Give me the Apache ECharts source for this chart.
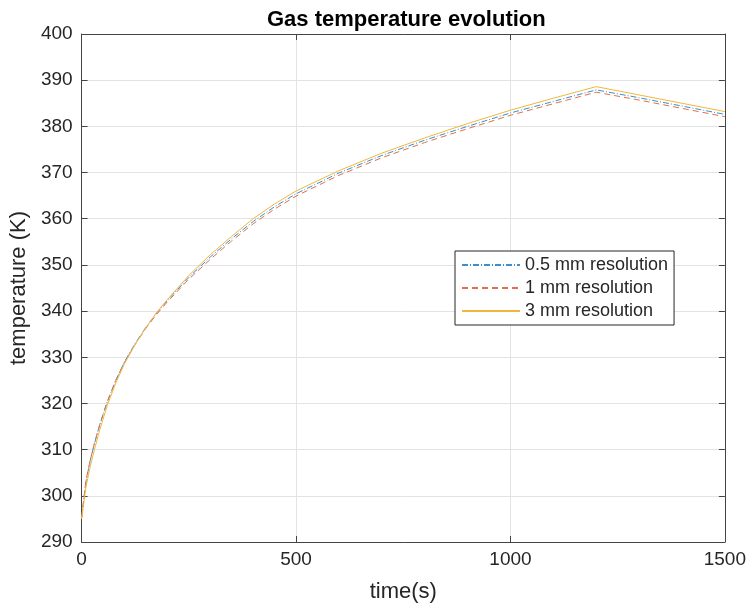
<!DOCTYPE html>
<html>
<head>
<meta charset="utf-8">
<script src="https://cdn.jsdelivr.net/npm/echarts@6/dist/echarts.min.js"></script>
<style>html,body{margin:0;padding:0;background:#fff;}#c{width:749px;height:608px;}</style>
</head>
<body>
<div id="c"></div>
<script>
const times = [0,10,20,30,40,50,60,80,100,125,150,175,200,250,300,350,400,450,500,600,700,800,900,1000,1100,1200,1300,1400,1500];
const res05 = [295.2,303.0,307.6,311.3,314.6,317.6,320.4,325.1,329.0,333.0,336.5,339.6,342.3,347.3,351.7,355.7,359.4,362.6,365.4,369.9,373.7,377.0,380.0,382.9,385.4,387.9,386.2,384.4,382.6];
const res1 = [295.3,303.2,307.7,311.4,314.7,317.6,320.4,325.0,328.9,332.8,336.3,339.3,342.0,346.9,351.2,355.2,358.9,362.1,364.9,369.4,373.2,376.5,379.5,382.4,384.9,387.4,385.7,383.9,382.1];
const res3 = [295.0,301.8,306.3,310.0,313.5,316.6,319.6,324.5,328.6,332.8,336.4,339.7,342.5,347.7,352.2,356.2,360.0,363.2,366.0,370.4,374.2,377.5,380.6,383.5,386.1,388.6,386.8,385.0,383.2];
const seriesNames = ['0.5 mm resolution','1 mm resolution','3 mm resolution'];
const xTicks = [0,500,1000,1500];
const yTicks = [290,300,310,320,330,340,350,360,370,380,390,400];

const pair = arr => times.map((t,i)=>[t,arr[i]]);
const font = 'Liberation Sans, Arial, Helvetica, sans-serif';
const axisCol = '#444444';
const txtCol = '#262626';

const chart = echarts.init(document.getElementById('c'), null, {renderer:'canvas'});
const baseX = {
  type:'value', min:xTicks[0], max:xTicks[xTicks.length-1], interval:500,
  axisLine:{show:true,onZero:false,lineStyle:{color:axisCol,width:1}},
  axisTick:{show:true,inside:true,length:6,lineStyle:{color:axisCol}},
  splitLine:{show:false}
};
const baseY = {
  type:'value', min:yTicks[0], max:yTicks[yTicks.length-1], interval:10,
  axisLine:{show:true,onZero:false,lineStyle:{color:axisCol,width:1}},
  axisTick:{show:true,inside:true,length:6,lineStyle:{color:axisCol}},
  splitLine:{show:false}
};
chart.setOption({
  animation:false,
  backgroundColor:'#ffffff',
  title:{text:'Gas temperature evolution', left:262, top:4,
    textStyle:{fontFamily:font,fontSize:22,fontWeight:'bold',color:'#000'}},
  grid:{left:80,right:22,top:34,bottom:65,containLabel:false},
  legend:{
    orient:'vertical', left:455, top:251,
    data:seriesNames,
    itemWidth:58, itemHeight:12, itemGap:5,
    padding:[5,6,5,6],
    borderColor:'#262626', borderWidth:1, backgroundColor:'#ffffff',
    textStyle:{fontFamily:font,fontSize:18,color:txtCol},
    itemStyle:{opacity:0}
  },
  xAxis:[
    Object.assign({}, baseX, {
      position:'bottom',
      name:'time(s)', nameLocation:'middle', nameGap:39,
      nameTextStyle:{fontFamily:font,fontSize:22,color:txtCol},
      axisLabel:{show:true,fontFamily:font,fontSize:19,color:txtCol,margin:8,formatter:v=>String(v)},
      splitLine:{show:true,lineStyle:{color:'#e3e3e3',width:1}}
    }),
    Object.assign({}, baseX, {position:'top', axisLabel:{show:false}})
  ],
  yAxis:[
    Object.assign({}, baseY, {
      position:'left',
      name:'temperature (K)', nameLocation:'middle', nameGap:44,
      nameTextStyle:{fontFamily:font,fontSize:22,color:txtCol},
      axisLabel:{show:true,fontFamily:font,fontSize:19,color:txtCol,margin:9,formatter:v=>String(v)},
      splitLine:{show:true,lineStyle:{color:'#e3e3e3',width:1}}
    }),
    Object.assign({}, baseY, {position:'right', axisLabel:{show:false}})
  ],
  series:[
    {name:seriesNames[0], type:'line', data:pair(res05), showSymbol:false, symbol:'none', smooth:false,
     lineStyle:{color:'#3a8fd0',width:1,type:[6,2,1,2]}, itemStyle:{color:'#3a8fd0'}, z:3},
    {name:seriesNames[1], type:'line', data:pair(res1), showSymbol:false, symbol:'none', smooth:false,
     lineStyle:{color:'#e07045',width:1,type:[6,4]}, itemStyle:{color:'#e07045'}, z:4},
    {name:seriesNames[2], type:'line', data:pair(res3), showSymbol:false, symbol:'none', smooth:false,
     lineStyle:{color:'#efb83a',width:1,type:'solid'}, itemStyle:{color:'#efb83a'}, z:5}
  ]
});
</script>
</body>
</html>
